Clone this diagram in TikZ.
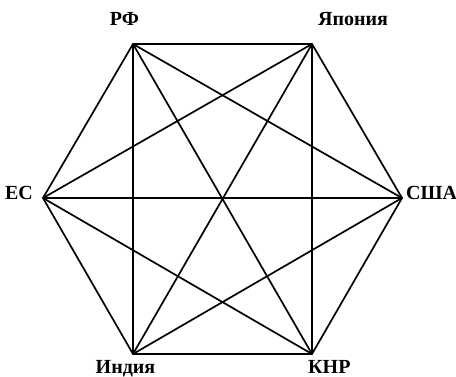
\documentclass[tikz,border=0pt]{standalone}
\usepackage{fontspec}
\setmainfont{Liberation Serif}
\usetikzlibrary{positioning}

\begin{document}
\begin{tikzpicture}[x=1pt,y=-1pt,
  vtx/.style={inner sep=0pt,minimum size=0pt},
  lbl/.style={inner sep=0pt,font=\fontsize{20}{24}\selectfont\bfseries},
  edge/.style={line width=1.7pt,line cap=round,line join=round}]
  \useasboundingbox (0,0) rectangle (456,376);
  % vertices
  \node[vtx] (rf) at (133,44)  {};
  \node[vtx] (jp) at (312,44)  {};
  \node[vtx] (us) at (402,198) {};
  \node[vtx] (cn) at (312,354) {};
  \node[vtx] (in) at (133,354) {};
  \node[vtx] (eu) at (43,198)  {};
  % labels
  \node[lbl,anchor=base] (lrf) at (124.5,25)  {РФ};
  \node[lbl,anchor=base west] (ljp) at (318,25)  {Япония};
  \node[lbl,anchor=base east] (leu) at (33,199)  {ЕС};
  \node[lbl,anchor=base west] (lus) at (406,199) {США};
  \node[lbl,anchor=base] (lin) at (125.5,373) {Индия};
  \node[lbl,anchor=base west] (lcn) at (308,373) {КНР};
  % edges
  \foreach \a/\b in {rf/jp,rf/us,rf/cn,rf/in,rf/eu,jp/us,jp/cn,jp/in,jp/eu,
    us/cn,us/in,us/eu,cn/in,cn/eu,in/eu}
    \draw[edge] (\a) -- (\b);
\end{tikzpicture}
\end{document}
